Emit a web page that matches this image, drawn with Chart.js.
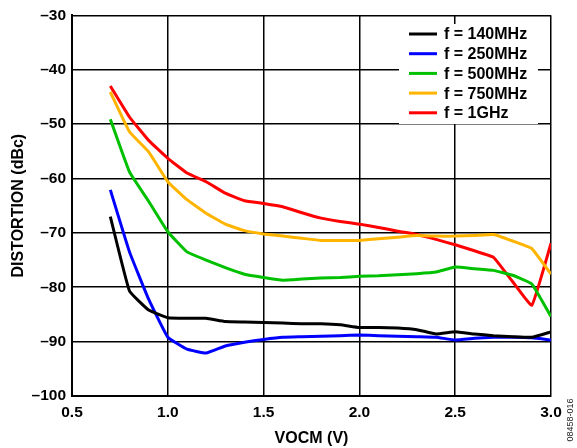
<!DOCTYPE html>
<html>
<head>
<meta charset="utf-8">
<script src="https://cdn.jsdelivr.net/npm/chart.js@4.4.1/dist/chart.umd.min.js"></script>
<style>
  html, body { margin: 0; padding: 0; background: #fff; }
  #chart { display: block; }
</style>
</head>
<body>
<canvas id="chart" width="577" height="448"></canvas>
<script>
// VOCM sweep (V)
const vocm = [0.7, 0.8, 0.9, 1.0, 1.1, 1.2, 1.3, 1.4, 1.5, 1.6, 1.7, 1.8,
              1.9, 2.0, 2.1, 2.2, 2.3, 2.4, 2.5, 2.6, 2.7, 2.8, 2.9, 3.0];

// distortion (dBc) per test frequency
const f140 = [-67, -80.7, -84.2, -85.6, -85.7, -85.7, -86.3, -86.4, -86.5, -86.6, -86.7, -86.7,
              -86.9, -87.4, -87.4, -87.5, -87.8, -88.6, -88.2, -88.6, -88.9, -89.1, -89.2, -88.2];
const f250 = [-62.1, -73.5, -82.2, -89.2, -91.4, -92.1, -90.8, -90.1, -89.6, -89.2, -89.1, -89.0,
              -88.9, -88.8, -88.9, -89.0, -89.1, -89.2, -89.7, -89.4, -89.2, -89.2, -89.3, -89.7];
const f500 = [-49.1, -58.8, -64.2, -69.8, -73.5, -75.0, -76.4, -77.6, -78.2, -78.7, -78.5, -78.3,
              -78.2, -78.0, -77.9, -77.7, -77.5, -77.2, -76.3, -76.6, -76.9, -77.8, -79.4, -85.4];
const f750 = [-44.1, -51.4, -55.1, -60.6, -63.9, -66.4, -68.4, -69.6, -70.2, -70.6, -71.0, -71.4,
              -71.4, -71.4, -71.1, -70.8, -70.5, -70.6, -70.6, -70.5, -70.3, -71.5, -72.9, -77.6];
const f1g  = [-43, -48.7, -53, -56.3, -59, -60.6, -62.7, -64.1, -64.6, -65.2, -66.3, -67.3,
              -67.9, -68.4, -69, -69.7, -70.3, -71.2, -72.2, -73.3, -74.5, -79, -83.3, -71.9];

const seriesLabels = ['f = 140MHz', 'f = 250MHz', 'f = 500MHz', 'f = 750MHz', 'f = 1GHz'];
const seriesColors = ['#000000', '#0000ff', '#00c000', '#ffb400', '#ff0000'];
const seriesValues = [f140, f250, f500, f750, f1g];

const xTicks = [0.5, 1.0, 1.5, 2.0, 2.5, 3.0];
const yTicks = [-100, -90, -80, -70, -60, -50, -40, -30];

const FONT = "'Liberation Sans', Arial, sans-serif";

const datasets = seriesValues.map((vals, i) => ({
    label: seriesLabels[i],
    data: vocm.map((x, j) => ({ x, y: vals[j] })),
    borderColor: seriesColors[i],
    borderWidth: 3,
    pointRadius: 0,
    showLine: true,
    tension: 0.1,
    fill: false,
}));

// legend box drawn inside the plot, plus the figure code on the right
const overlay = {
    id: 'overlay',
    afterDatasetsDraw(chart) {
        const { ctx } = chart;
        ctx.save();
        ctx.fillStyle = '#fff';
        ctx.fillRect(399, 24, 139, 100);
        ctx.font = `bold 16px ${FONT}`;
        ctx.textBaseline = 'middle';
        ctx.textAlign = 'left';
        chart.data.datasets.forEach((ds, i) => {
            const y = 34 + i * 19.7;
            ctx.strokeStyle = ds.borderColor;
            ctx.lineWidth = 3;
            ctx.beginPath();
            ctx.moveTo(409, y);
            ctx.lineTo(437, y);
            ctx.stroke();
            ctx.fillStyle = '#000';
            ctx.fillText(ds.label, 444, y + 1);
        });

        ctx.translate(571, 420);
        ctx.rotate(-Math.PI / 2);
        ctx.font = `9px ${FONT}`;
        ctx.fillStyle = '#222';
        ctx.textAlign = 'center';
        ctx.fillText('08458-016', 0, 0);
        ctx.restore();
    }
};

new Chart(document.getElementById('chart'), {
    type: 'scatter',
    data: { datasets },
    options: {
        responsive: false,
        animation: false,
        devicePixelRatio: 1,
        layout: { padding: { top: 13, right: 26, left: 0, bottom: 0 } },
        plugins: {
            legend: { display: false },
            tooltip: { enabled: false },
        },
        scales: {
            x: {
                type: 'linear',
                min: 0.5,
                max: 3.0,
                afterFit(scale) { scale.height = 52; },
                afterBuildTicks(scale) { scale.ticks = xTicks.map(v => ({ value: v })); },
                grid: { color: '#000', lineWidth: 1.5, drawTicks: false },
                border: { color: '#000', width: 2 },
                ticks: {
                    color: '#000',
                    padding: 7,
                    font: { family: FONT, size: 15.5, weight: 'bold' },
                    callback: v => Number(v).toFixed(1),
                },
                title: {
                    display: true,
                    text: 'VOCM (V)',
                    color: '#000',
                    font: { family: FONT, size: 16, weight: 'bold' },
                    padding: { top: 0, bottom: 0 },
                },
            },
            y: {
                type: 'linear',
                min: -100,
                max: -30,
                afterFit(scale) { scale.width = 72; },
                afterBuildTicks(scale) { scale.ticks = yTicks.map(v => ({ value: v })); },
                grid: { color: '#000', lineWidth: 1.5, drawTicks: false },
                border: { color: '#000', width: 2 },
                ticks: {
                    color: '#000',
                    padding: 6,
                    font: { family: FONT, size: 15.5, weight: 'bold' },
                    callback: v => String(v).replace('-', '\u2013'),
                },
                title: {
                    display: true,
                    text: 'DISTORTION (dBc)',
                    color: '#000',
                    font: { family: FONT, size: 16, weight: 'bold' },
                    padding: { top: 9, bottom: 0 },
                },
            },
        },
    },
    plugins: [overlay],
});
</script>
</body>
</html>
